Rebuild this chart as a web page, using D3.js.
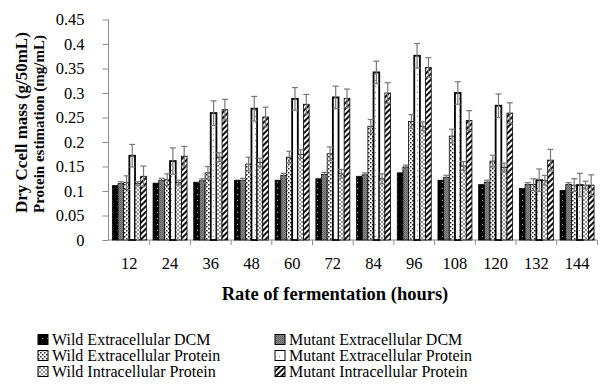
<!DOCTYPE html>
<html><head><meta charset="utf-8">
<script src="https://cdn.jsdelivr.net/npm/d3@7"></script>
<style>body{margin:0;background:#fff}svg text{font-family:"Liberation Serif","Tinos","Times New Roman",Times,"DejaVu Serif",serif}</style>
</head><body>
<svg id="c" width="600" height="386"></svg>
<script>
const categories = ["12","24","36","48","60","72","84","96","108","120","132","144"];
const seriesNames = ["Wild Extracellular DCM","Mutant Extracellular DCM","Wild Extracellular Protein","Mutant Extracellular Protein","Wild Intracellular Protein","Mutant Intracellular Protein"];
const wildExtDCM  = [0.111,0.116,0.118,0.122,0.122,0.125,0.130,0.137,0.122,0.113,0.105,0.101];
const mutExtDCM   = [0.115,0.122,0.121,0.122,0.132,0.134,0.133,0.149,0.128,0.118,0.113,0.113];
const wildExtProt = [0.117,0.123,0.137,0.155,0.169,0.176,0.232,0.242,0.212,0.161,0.113,0.112];
const mutExtProt  = [0.172,0.161,0.259,0.268,0.288,0.291,0.342,0.376,0.300,0.274,0.122,0.112];
const wildIntProt = [0.115,0.117,0.169,0.158,0.175,0.135,0.125,0.232,0.151,0.148,0.122,0.112];
const mutIntProt  = [0.130,0.171,0.266,0.251,0.277,0.289,0.300,0.352,0.244,0.259,0.163,0.112];
const errWildExtDCM  = [0,0,0,0,0,0,0,0,0,0,0,0];
const errMutExtDCM   = [0.004,0.004,0.004,0.004,0.004,0.004,0.004,0.004,0.004,0.004,0.004,0.004];
const errWildExtProt = [0.014,0.012,0.013,0.014,0.012,0.014,0.014,0.014,0.014,0.012,0.012,0.013];
const errMutExtProt  = [0.023,0.027,0.025,0.025,0.023,0.023,0.023,0.025,0.023,0.024,0.023,0.024];
const errWildIntProt = [0.004,0.005,0.009,0.009,0.009,0.009,0.010,0.009,0.009,0.009,0.010,0.008];
const errMutIntProt  = [0.021,0.020,0.021,0.020,0.020,0.019,0.021,0.020,0.020,0.021,0.022,0.021];
const yTicks = [0,0.05,0.1,0.15,0.2,0.25,0.3,0.35,0.4,0.45];
const yTickLabels = ["0","0.05","0.1","0.15","0.2","0.25","0.3","0.35","0.4","0.45"];

const values = [wildExtDCM,mutExtDCM,wildExtProt,mutExtProt,wildIntProt,mutIntProt];
const errors = [errWildExtDCM,errMutExtDCM,errWildExtProt,errMutExtProt,errWildIntProt,errMutIntProt];
const FONT = '"Liberation Serif","Tinos","Times New Roman",Times,"DejaVu Serif",serif';

const svg = d3.select("#c");
const defs = svg.append("defs");
let p = defs.append("pattern").attr("id","p0").attr("patternUnits","userSpaceOnUse").attr("width",5).attr("height",6);
p.append("rect").attr("width",5).attr("height",6).attr("fill","#000");
p.append("rect").attr("x",2).attr("y",2).attr("width",1).attr("height",1).attr("fill","#bbb");
p = defs.append("pattern").attr("id","p1").attr("patternUnits","userSpaceOnUse").attr("width",2).attr("height",2);
p.append("rect").attr("width",2).attr("height",2).attr("fill","#8a8a8a");
p.append("rect").attr("width",1).attr("height",1).attr("fill","#5a5a5a");
p.append("rect").attr("x",1).attr("y",1).attr("width",1).attr("height",1).attr("fill","#6a6a6a");
p = defs.append("pattern").attr("id","p2").attr("patternUnits","userSpaceOnUse").attr("width",4).attr("height",4);
p.append("rect").attr("width",4).attr("height",4).attr("fill","#fff");
p.append("rect").attr("x",0).attr("y",0).attr("width",1.5).attr("height",1.5).attr("fill","#222");
p.append("rect").attr("x",2).attr("y",2).attr("width",1.5).attr("height",1.5).attr("fill","#222");
p = defs.append("pattern").attr("id","p3").attr("patternUnits","userSpaceOnUse").attr("width",6).attr("height",6);
p.append("rect").attr("width",6).attr("height",6).attr("fill","#fff");
p.append("rect").attr("x",3).attr("y",2).attr("width",1).attr("height",1).attr("fill","#888");
p = defs.append("pattern").attr("id","p4").attr("patternUnits","userSpaceOnUse").attr("width",4).attr("height",4);
p.append("rect").attr("width",4).attr("height",4).attr("fill","#fff");
p.append("path").attr("d","M0,0L4,4M4,0L0,4").attr("stroke","#8a8a8a").attr("stroke-width",0.9);
p = defs.append("pattern").attr("id","p5").attr("patternUnits","userSpaceOnUse").attr("width",4).attr("height",4).attr("patternTransform","rotate(45)");
p.append("rect").attr("width",4).attr("height",4).attr("fill","#fff");
p.append("rect").attr("width",2).attr("height",4).attr("fill","#111");

const fills = ["url(#p0)","url(#p1)","url(#p2)","url(#p3)","url(#p4)","url(#p5)"];
const strokeW = [0.8,0.8,0.8,1.8,0.8,0.8];

const x0 = d3.scaleBand().domain(categories).range([109,597.4]).paddingInner(0.165).paddingOuter(0.0825);
const x1 = d3.scaleBand().domain(d3.range(6)).range([0,x0.bandwidth()]);
const y = d3.scaleLinear().domain([0,0.45]).range([240,19.5]);

const yAxis = svg.append("g").attr("transform","translate(108.5,0)")
  .call(d3.axisLeft(y).tickValues(yTicks).tickSize(6).tickFormat((d,i)=>yTickLabels[i]));
yAxis.attr("font-family",FONT);
yAxis.select(".domain").attr("stroke","#8c8c8c").attr("d","M0,240V19.5");
yAxis.selectAll(".tick line").attr("stroke","#8c8c8c");
yAxis.selectAll(".tick text").attr("x",-24).attr("fill","#000").attr("font-size","16.5px");

const xAxis = svg.append("g").attr("transform","translate(0,240)")
  .call(d3.axisBottom(x0).tickSize(0).tickPadding(17));
xAxis.attr("font-family",FONT);
xAxis.select(".domain").attr("stroke","#8c8c8c").attr("d","M108.5,0H597.4");
xAxis.selectAll(".tick text").attr("fill","#000").attr("font-size","16.5px");
const step = x0.step();
xAxis.selectAll(".bnd").data(categories).enter().append("line").attr("class","bnd")
  .attr("x1",d=>x0(d)-step*x0.paddingInner()/2+step).attr("x2",d=>x0(d)-step*x0.paddingInner()/2+step)
  .attr("y1",0).attr("y2",5).attr("stroke","#8c8c8c");

const g = svg.append("g");
categories.forEach((c,ci)=>{
  values.forEach((arr,si)=>{
    g.append("rect").attr("x",x0(c)+x1(si)).attr("width",x1.bandwidth())
      .attr("y",y(arr[ci])).attr("height",y(0)-y(arr[ci]))
      .attr("fill",fills[si]).attr("stroke","#000").attr("stroke-width",strokeW[si]);
  });
});
const eg = svg.append("g").attr("stroke","#777").attr("stroke-width",1.2);
categories.forEach((c,ci)=>{
  values.forEach((arr,si)=>{
    const e = errors[si][ci]; if(!e) return;
    const cx = x0(c)+x1(si)+x1.bandwidth()/2;
    eg.append("line").attr("x1",cx).attr("x2",cx).attr("y1",y(arr[ci]+e)).attr("y2",y(arr[ci]-e));
    eg.append("line").attr("x1",cx-3).attr("x2",cx+3).attr("y1",y(arr[ci]+e)).attr("y2",y(arr[ci]+e));
    eg.append("line").attr("x1",cx-3).attr("x2",cx+3).attr("y1",y(arr[ci]-e)).attr("y2",y(arr[ci]-e));
  });
});

svg.append("text").attr("x",335).attr("y",300).attr("text-anchor","middle")
  .attr("font-weight","bold").attr("font-size","18.5px").text("Rate of fermentation (hours)");
svg.append("text").attr("transform","translate(27,213) rotate(-90)").attr("font-weight","bold")
  .attr("font-size","17px").text("Dry Ccell mass (g/50mL)");
svg.append("text").attr("transform","translate(44,213) rotate(-90)").attr("font-weight","bold")
  .attr("font-size","15px").text("Protein estimation (mg/mL)");

const legendOrder = [0,2,4,1,3,5];
legendOrder.forEach((si,k)=>{
  const col = k<3?0:1, row = k%3;
  const lx = col===0?38:275, by = [344.5,360.5,376.5][row];
  svg.append("rect").attr("x",lx).attr("y",by-10).attr("width",10).attr("height",10)
    .attr("fill",fills[si]).attr("stroke","#000").attr("stroke-width",1);
  svg.append("text").attr("x",lx+14).attr("y",by).attr("font-size","16px").text(seriesNames[si]);
});
</script>
</body></html>
